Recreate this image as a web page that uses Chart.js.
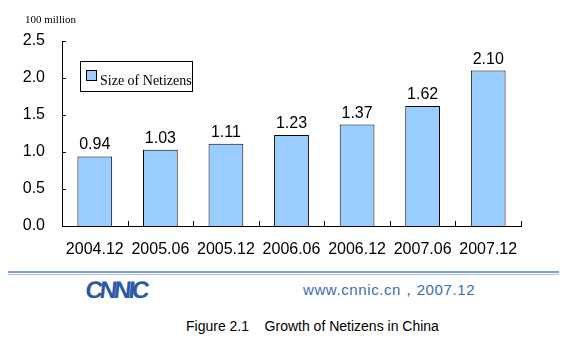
<!DOCTYPE html>
<html>
<head>
<meta charset="utf-8">
<script src="https://cdn.jsdelivr.net/npm/chart.js@4.4.1/dist/chart.umd.min.js"></script>
<style>
  html, body { margin: 0; padding: 0; background: #fff; }
  body { width: 569px; height: 348px; position: relative; overflow: hidden; font-family: Arial, "Liberation Sans", sans-serif; }
  #wrap { position: absolute; left: 0; top: 0; width: 569px; height: 262px; }
  .abs { position: absolute; white-space: nowrap; }
  #unit { left: 25px; top: 13px; font: 11px "Liberation Serif", "Times New Roman", serif; color: #000; }
  #rule1 { left: 8px; top: 271px; width: 551px; height: 2px; background: #7f9fd6; }
  #rule2 { left: 8px; top: 274px; width: 551px; height: 1px; background: #aac0e6; }
  #logo { left: 84px; top: 276px; font: bold 24px Arial, sans-serif; color: #2b5aa8; letter-spacing: -3px; transform: skewX(-6deg); transform-origin: left bottom; }
  #url { left: 303px; top: 281px; font: 15px Arial, sans-serif; color: #3d6db5; letter-spacing: 0.6px; }
  #caption { left: 186px; top: 318px; font: 14px Arial, sans-serif; color: #000; }
</style>
</head>
<body>
<div id="wrap"><canvas id="chart"></canvas></div>
<div class="abs" id="unit">100 million</div>
<div class="abs" id="rule1"></div>
<div class="abs" id="rule2"></div>
<div class="abs" id="logo">CNNIC</div>
<div class="abs" id="url">www.cnnic.cn，2007.12</div>
<div class="abs" id="caption">Figure 2.1&nbsp;&nbsp;&nbsp;&nbsp;Growth of Netizens in China</div>
<script>
const periods = ['2004.12', '2005.06', '2005.12', '2006.06', '2006.12', '2007.06', '2007.12'];
const netizens = [0.94, 1.03, 1.11, 1.23, 1.37, 1.62, 2.10];
const yTicks = [0, 0.5, 1.0, 1.5, 2.0, 2.5];
const seriesName = 'Size of Netizens';

// inward tick marks, value labels and the boxed legend
const decorations = {
  id: 'decorations',
  afterDatasetsDraw(chart) {
    const ctx = chart.ctx;
    const area = chart.chartArea;
    const x = chart.scales.x;
    const y = chart.scales.y;
    ctx.save();
    ctx.strokeStyle = '#000';
    ctx.lineWidth = 1;
    ctx.beginPath();
    yTicks.forEach(v => {
      const py = Math.round(y.getPixelForValue(v)) + 0.5;
      ctx.moveTo(area.left, py);
      ctx.lineTo(area.left + 4, py);
    });
    const step = (area.right - area.left) / periods.length;
    for (let i = 1; i <= periods.length; i++) {
      const px = Math.round(x.getPixelForValue(i - 1) + step / 2) + 0.5;
      ctx.moveTo(px, area.bottom);
      ctx.lineTo(px, area.bottom - 5);
    }
    ctx.stroke();

    ctx.fillStyle = '#000';
    ctx.font = '16px Arial, "Liberation Sans", sans-serif';
    ctx.textAlign = 'center';
    ctx.textBaseline = 'alphabetic';
    chart.getDatasetMeta(0).data.forEach((bar, i) => {
      ctx.fillText(netizens[i].toFixed(2), bar.x, bar.y - 7);
    });

    // legend
    ctx.strokeStyle = '#000';
    ctx.strokeRect(80.5, 61.5, 112, 30);
    ctx.fillStyle = '#99ccff';
    ctx.fillRect(86.5, 70.5, 10, 10);
    ctx.strokeRect(86.5, 70.5, 10, 10);
    ctx.fillStyle = '#000';
    ctx.textAlign = 'left';
    ctx.font = '14px "Liberation Serif", "Times New Roman", serif';
    ctx.fillText(seriesName, 100, 85);
    ctx.restore();
  }
};

new Chart(document.getElementById('chart'), {
  type: 'bar',
  data: {
    labels: periods,
    datasets: [{
      label: seriesName,
      data: netizens,
      backgroundColor: '#99ccff',
      borderColor: '#000',
      borderWidth: 1,
      barPercentage: 0.53,
      categoryPercentage: 1.0
    }]
  },
  options: {
    responsive: true,
    maintainAspectRatio: false,
    animation: false,
    layout: { padding: { top: 41, right: 48, left: 0, bottom: 0 } },
    plugins: {
      legend: { display: false },
      tooltip: { enabled: false }
    },
    scales: {
      x: {
        grid: { display: false },
        border: { display: true, color: '#000', width: 1 },
        ticks: { color: '#000', font: { family: 'Arial', size: 16 }, padding: 6, maxRotation: 0 },
        afterFit(scale) { scale.height = 36; }
      },
      y: {
        min: 0,
        max: 2.5,
        grid: { display: false },
        border: { display: true, color: '#000', width: 1 },
        ticks: {
          stepSize: 0.5,
          color: '#000',
          font: { family: 'Arial', size: 16 },
          padding: 9,
          callback: v => v.toFixed(1)
        },
        afterFit(scale) { scale.width = 62; }
      }
    }
  },
  plugins: [decorations]
});
</script>
</body>
</html>
